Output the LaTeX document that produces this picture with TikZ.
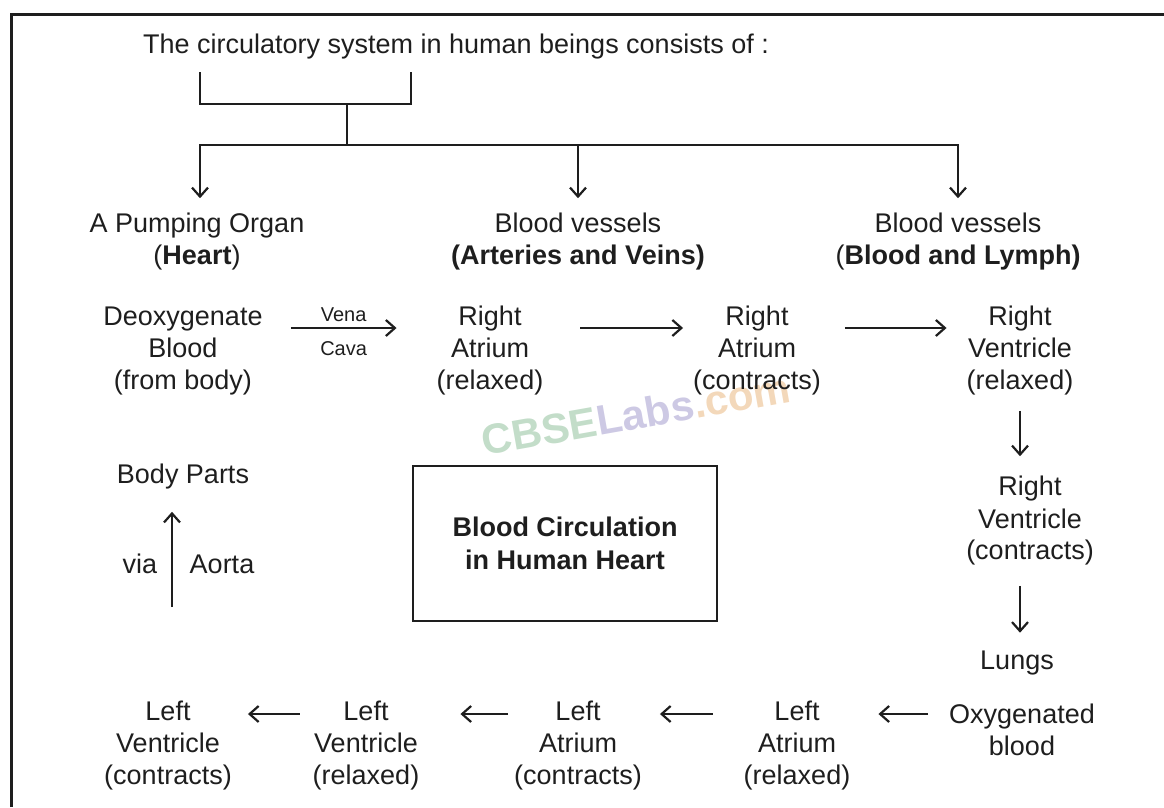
\documentclass[tikz,border=0pt]{standalone}
\usepackage{fontspec}
\setmainfont{Liberation Sans}
\usetikzlibrary{arrows.meta}
\definecolor{ink}{HTML}{1E1E1E}
\definecolor{wmg}{HTML}{C3DDC9}
\definecolor{wmp}{HTML}{CDC9E4}
\definecolor{wmo}{HTML}{F3D8BA}
\begin{document}
\begin{tikzpicture}[x=1pt,y=-1pt,
  txt/.style={align=center,inner sep=0pt,text=ink,font=\fontsize{27}{32}\selectfont},
  small/.style={inner sep=0pt,text=ink,font=\fontsize{20}{24}\selectfont},
  arr/.style={draw=ink,line width=2.2pt,-{Straight Barb[length=9pt,width=16pt,line width=2.2pt]}},
  ln/.style={draw=ink,line width=2.2pt}]
\useasboundingbox (0,0) rectangle (1164,807);
% frame
\draw[draw=ink,line width=3pt] (11,807) -- (11,14) -- (1164,14);
% watermark
\node[rotate=10,inner sep=0pt,font=\fontsize{42}{42}\selectfont\bfseries] (wm) at (636,414)
  {\textcolor{wmg}{CBSE}\textcolor{wmp}{Labs}\textcolor{wmo}{.com}};
% title and tree
\node[txt] (title) at (456,47) {The circulatory system in human beings consists of :};
\coordinate (brL) at (200,72);
\coordinate (brR) at (411,72);
\coordinate (j1) at (347,104);
\coordinate (j2) at (347,145);
\draw[ln] (brL) |- (j1) -| (brR);
\draw[ln] (j1) -- (j2);
\node[txt] (h1) at (197,242) {A Pumping Organ\\(\textbf{Heart})};
\node[txt] (h2) at (578,242) {Blood vessels\\\textbf{(Arteries and Veins)}};
\node[txt] (h3) at (958,242) {Blood vessels\\(\textbf{Blood and Lymph)}};
\draw[arr] (j2) -| ([xshift=3pt,yshift=15pt]h1.north);
\draw[arr] (j2) -| ([yshift=15pt]h2.north);
\draw[arr] (j2) -| ([yshift=15pt]h3.north);
% right side chain
\node[txt] (deo) at (183,351) {Deoxygenate\\Blood\\(from body)};
\node[txt] (ra) at (490,351) {Right\\Atrium\\(relaxed)};
\node[txt] (rac) at (757,351) {Right\\Atrium\\(contracts)};
\node[txt] (rv) at (1020,351) {Right\\Ventricle\\(relaxed)};
\node[txt] (rvc) at (1030,521) {Right\\Ventricle\\(contracts)};
\node[txt] (lungs) at (1017,663) {Lungs};
\node[txt] (oxy) at (1022,730) {Oxygenated\\blood};
\node[txt] (la) at (797,746) {Left\\Atrium\\(relaxed)};
\node[txt] (lac) at (578,746) {Left\\Atrium\\(contracts)};
\node[txt] (lvr) at (366,746) {Left\\Ventricle\\(relaxed)};
\node[txt] (lvc) at (168,746) {Left\\Ventricle\\(contracts)};
\node[txt] (bp) at (183,477) {Body Parts};
\draw[arr] ([xshift=28pt,yshift=23pt]deo.east) -- node[small,above=5pt]{Vena} node[small,below=12pt]{Cava} ([xshift=-40pt,yshift=23pt]ra.west);
\draw[arr] ([xshift=37pt,yshift=23pt]ra.east) -- ([xshift=-10pt,yshift=23pt]rac.west);
\draw[arr] ([xshift=24pt,yshift=23pt]rac.east) -- ([xshift=-20pt,yshift=23pt]rv.west);
\draw[arr] ([yshift=-15pt]rv.south) -- ([yshift=20pt]rvc.north -| rv.south);
\draw[arr] ([yshift=-20pt]rvc.south -| rv.south) -- ([yshift=18pt]lungs.north -| rv.south);
\draw[arr] ([xshift=-21pt,yshift=16pt]oxy.west) -- ([xshift=28pt,yshift=32pt]la.east);
\draw[arr] ([xshift=-31pt,yshift=32pt]la.west) -- ([xshift=18pt,yshift=32pt]lac.east);
\draw[arr] ([xshift=-6pt,yshift=32pt]lac.west) -- ([xshift=41pt,yshift=32pt]lvr.east);
\draw[arr] ([xshift=-13pt,yshift=32pt]lvr.west) -- ([xshift=16pt,yshift=32pt]lvc.east);
% aorta
\coordinate (aortaS) at (172,607);
\draw[arr] (aortaS) -- ([yshift=-22pt]bp.south -| aortaS);
\node[txt] (via) at (140,564) {via};
\node[txt] (aorta) at (222,564) {Aorta};
% centre box
\node[draw=ink,line width=2.4pt,minimum width=304pt,minimum height=155pt,align=center,inner sep=0pt,text=ink,font=\fontsize{27}{33}\selectfont\bfseries] (box) at (565,543.5) {Blood Circulation\\in Human Heart};
\end{tikzpicture}
\end{document}
